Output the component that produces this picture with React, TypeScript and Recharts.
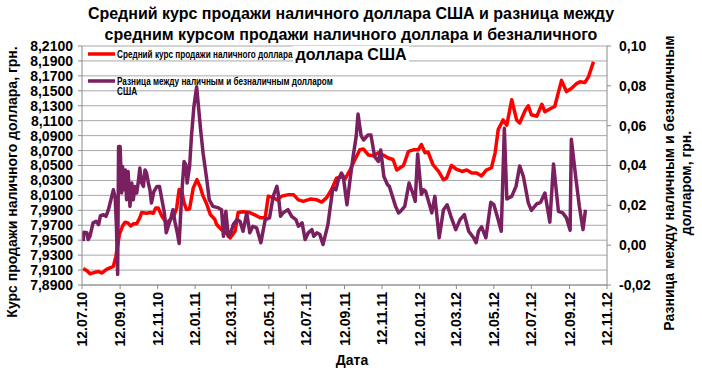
import React from 'react';
import { LineChart, Line, XAxis, YAxis, CartesianGrid, Legend } from 'recharts';

const FONT = '"Liberation Sans", Arial, sans-serif';

// x axis: days since 12.07.10, ticks every two months
const xTickDays = [0, 62, 123, 184, 243, 304, 365, 427, 488, 549, 609, 670, 731, 793, 854];
const xTickLabels = ['12.07.10', '12.09.10', '12.11.10', '12.01.11', '12.03.11', '12.05.11', '12.07.11', '12.09.11', '12.11.11', '12.01.12', '12.03.12', '12.05.12', '12.07.12', '12.09.12', '12.11.12'];
const leftTicks = [7.89, 7.91, 7.93, 7.95, 7.97, 7.99, 8.01, 8.03, 8.05, 8.07, 8.09, 8.11, 8.13, 8.15, 8.17, 8.19, 8.21];
const rightTicks = [-0.02, 0, 0.02, 0.04, 0.06, 0.08, 0.1];

const titleLines = ['Средний курс продажи наличного доллара США и разница между', 'средним курсом продажи наличного доллара и безналичного', 'доллара США'];
const seriesNames = ['Средний курс продажи наличного доллара', 'Разница между наличным и безналичным долларом США'];

// Series 1: average cash USD selling rate (days since 12.07.10)
const rateDays = [2, 8, 13, 21, 27, 32, 40, 48, 51, 55, 61, 66, 70, 75, 79, 84, 89, 94, 97, 105, 111, 116, 120, 124, 130, 135, 139, 144, 150, 154, 158, 162, 166, 170, 175, 181, 187, 192, 197, 203, 209, 216, 219, 227, 235, 241, 249, 254, 262, 273, 281, 290, 298, 303, 311, 317, 325, 336, 344, 352, 360, 371, 382, 390, 398, 406, 414, 422, 428, 436, 444, 452, 458, 466, 474, 482, 490, 498, 506, 512, 523, 531, 539, 547, 552, 558, 563, 571, 580, 588, 593, 601, 609, 618, 626, 634, 642, 650, 658, 666, 672, 677, 685, 691, 699, 707, 712, 721, 726, 731, 740, 748, 753, 764, 769, 780, 788, 796, 805, 810, 818, 824, 832];
const rateValues = [7.912, 7.909, 7.905, 7.907, 7.908, 7.906, 7.911, 7.914, 7.915, 7.928, 7.958, 7.969, 7.974, 7.973, 7.969, 7.972, 7.972, 7.980, 7.987, 7.986, 7.987, 7.986, 7.993, 7.993, 7.982, 7.976, 7.974, 7.978, 7.984, 7.993, 8.018, 8.017, 8.000, 7.991, 7.992, 8.020, 8.031, 8.022, 8.009, 7.998, 7.984, 7.978, 7.971, 7.964, 7.959, 7.953, 7.962, 7.987, 7.988, 7.987, 7.984, 7.980, 7.980, 8.009, 8.007, 8.004, 8.009, 8.011, 8.011, 8.004, 8.002, 8.005, 8.004, 8.001, 8.007, 8.018, 8.033, 8.035, 8.032, 8.044, 8.058, 8.071, 8.072, 8.064, 8.063, 8.067, 8.064, 8.060, 8.058, 8.044, 8.050, 8.069, 8.071, 8.071, 8.078, 8.067, 8.068, 8.051, 8.042, 8.031, 8.033, 8.050, 8.045, 8.042, 8.044, 8.040, 8.040, 8.036, 8.044, 8.047, 8.067, 8.098, 8.111, 8.104, 8.138, 8.111, 8.107, 8.124, 8.130, 8.118, 8.116, 8.132, 8.122, 8.127, 8.129, 8.164, 8.149, 8.153, 8.160, 8.162, 8.161, 8.169, 8.189];

// Series 2: difference between cash and non-cash USD (days since 12.07.10)
const diffDays = [2, 3, 8, 10, 13, 18, 23, 27, 30, 35, 39, 43, 48, 51, 54, 56, 58, 59.5, 62, 64.5, 66, 68, 70.5, 72.5, 75, 78, 81, 83.5, 86, 89, 92, 94, 97, 100, 102.5, 105, 108, 110.5, 113, 117, 122, 126, 130, 134, 137, 141, 144, 148, 151, 155, 158, 162, 166, 169, 171, 175, 178, 182, 186.5, 189, 193, 197, 203, 207, 213, 222, 227, 230, 234, 238, 242, 246, 252, 257, 262, 268, 273, 278, 284, 291, 298, 305, 311, 317, 319, 323, 327, 335, 341, 348, 352, 358, 363, 368, 374, 377, 382, 387, 392, 400, 408, 413, 417, 422, 425, 431, 436, 441, 446, 449, 454, 458, 465, 470, 476, 482, 486, 491, 497, 500, 505, 510, 515, 518, 525, 532, 538, 542, 546, 552, 556, 559, 563, 569, 574, 581, 588, 594, 600, 608, 615, 622, 629, 637, 641, 645, 650, 657, 665, 670, 677, 682, 687, 691, 699, 706, 712, 718, 726, 731, 740, 746, 753, 761, 767, 775, 782, 788, 794, 796, 803, 809, 815, 819, 825, 832];
const diffValues = [0.002, 0.0065, 0.0062, 0.0028, 0.0045, 0.0112, 0.012, 0.0103, 0.0148, 0.0153, 0.0145, 0.0178, 0.024, 0.0278, 0.0237, 0.0095, -0.0147, 0.0495, 0.0495, 0.0262, 0.0395, 0.0278, 0.0378, 0.0228, 0.037, 0.0195, 0.0312, 0.0228, 0.0295, 0.0262, 0.0328, 0.0387, 0.0312, 0.0295, 0.0378, 0.0362, 0.0312, 0.0278, 0.0212, 0.027, 0.0295, 0.0295, 0.0228, 0.0162, 0.0062, 0.0103, 0.0128, 0.0178, 0.012, 0.0062, 0.0008, 0.0245, 0.042, 0.0403, 0.0312, 0.0395, 0.0545, 0.0695, 0.0795, 0.0712, 0.0578, 0.0462, 0.0328, 0.0228, 0.0195, 0.0187, 0.0178, 0.0045, 0.017, 0.0045, 0.0062, 0.0103, 0.0128, 0.012, 0.007, 0.0162, 0.0062, 0.0095, 0.0087, 0.0012, 0.0128, 0.0137, 0.0245, 0.0295, 0.0262, 0.0145, 0.0162, 0.0178, 0.0145, 0.0128, 0.0095, 0.0112, 0.0028, 0.0062, 0.0078, 0.0045, 0.0062, 0.0053, 0.0003, 0.0103, 0.0287, 0.0278, 0.0328, 0.0362, 0.0345, 0.0203, 0.0328, 0.0445, 0.0545, 0.0658, 0.055, 0.0528, 0.0553, 0.0553, 0.0445, 0.042, 0.0478, 0.0345, 0.0303, 0.0295, 0.0245, 0.0195, 0.0162, 0.017, 0.0195, 0.0312, 0.0262, 0.022, 0.0458, 0.0255, 0.0278, 0.027, 0.0228, 0.0162, 0.0245, 0.0037, 0.0178, 0.0203, 0.0145, 0.0078, 0.0128, 0.0153, 0.007, 0.0037, 0.0012, 0.007, 0.0092, 0.0037, 0.0215, 0.0203, 0.0128, 0.007, 0.0587, 0.0232, 0.0245, 0.0295, 0.0398, 0.0345, 0.0212, 0.0175, 0.0208, 0.0215, 0.0262, 0.0115, 0.0408, 0.017, 0.0162, 0.0137, 0.0075, 0.0532, 0.0345, 0.0195, 0.0078, 0.0178];

const rateData = rateDays.map((d, i) => ({ day: d, rate: rateValues[i] }));
const diffData = diffDays.map((d, i) => ({ day: d, diff: diffValues[i] }));

const RED = '#FF0000';
const PURPLE = '#7A1F60';
const GRID = '#A8A8A8';
const AXIS = '#8C8C8C';

const XTick = (props: any) => {
  const { x, y, payload } = props;
  const idx = xTickDays.indexOf(payload.value);
  return (
    <text x={x} y={y} transform={`rotate(-90 ${x} ${y})`} textAnchor="end" dy="0.36em"
      fontSize={14} fontWeight="bold" fontFamily={FONT} fill="#000">
      {idx >= 0 ? xTickLabels[idx] : ''}
    </text>
  );
};

const LegendContent = (props: any) => {
  const payload = props.payload || [];
  const textStyle = { fontFamily: FONT, fontSize: 10, fontWeight: 'bold' as const, fill: '#000' };
  const red = payload.find((p: any) => p.dataKey === 'rate');
  const pur = payload.find((p: any) => p.dataKey === 'diff');
  const purWords = String(pur ? pur.value : seriesNames[1]);
  const cut = purWords.lastIndexOf(' ');
  return (
    <svg width={300} height={54} style={{ display: 'block', overflow: 'visible' }}>
      <line x1={4} x2={31} y1={8} y2={8} stroke={red ? red.color : RED} strokeWidth={3.5} />
      <text transform="translate(33 11.5) scale(0.82 1)" {...textStyle}>{red ? red.value : seriesNames[0]}</text>
      <line x1={4} x2={31} y1={35} y2={35} stroke={pur ? pur.color : PURPLE} strokeWidth={3.5} />
      <text transform="translate(33 38.5) scale(0.82 1)" {...textStyle}>{purWords.slice(0, cut)}</text>
      <text transform="translate(33 48.5) scale(0.82 1)" {...textStyle}>{purWords.slice(cut + 1)}</text>
    </svg>
  );
};

export default function App() {
  const boldText = { fontFamily: FONT, fontWeight: 'bold' as const, color: '#000' };
  return (
    <div style={{ position: 'absolute', left: 0, top: 0, width: 702, height: 374, background: '#fff', overflow: 'hidden' }}>
      <LineChart width={702} height={374} margin={{ top: 46, right: 0, bottom: 0, left: 0 }}>
        <CartesianGrid yAxisId="left" vertical={false} stroke={GRID} horizontalValues={leftTicks} />
        <XAxis type="number" dataKey="day" domain={[0, 854]} ticks={xTickDays} interval={0}
          allowDataOverflow height={89} tickSize={4} tickMargin={3}
          axisLine={{ stroke: AXIS }} tickLine={{ stroke: AXIS }} tick={<XTick />} />
        <YAxis yAxisId="left" orientation="left" width={82} domain={[7.89, 8.21]} ticks={leftTicks}
          interval={0} allowDataOverflow tickSize={4} tickMargin={5}
          axisLine={{ stroke: AXIS }} tickLine={{ stroke: AXIS }}
          tickFormatter={(v: number) => v.toFixed(4).replace('.', ',')}
          tick={{ fill: '#000', fontSize: 14, fontWeight: 'bold', fontFamily: FONT }} />
        <YAxis yAxisId="right" orientation="right" width={95} domain={[-0.02, 0.1]} ticks={rightTicks}
          interval={0} allowDataOverflow tickSize={4} tickMargin={8}
          axisLine={{ stroke: AXIS }} tickLine={{ stroke: AXIS }}
          tickFormatter={(v: number) => v.toFixed(2).replace('.', ',')}
          tick={{ fill: '#000', fontSize: 14, fontWeight: 'bold', fontFamily: FONT }} />
        <Legend layout="vertical" align="center" verticalAlign="middle"
          wrapperStyle={{ position: 'absolute', left: 84, top: 46, width: 300, height: 54 }}
          content={<LegendContent />} />
        <Line yAxisId="left" data={rateData} dataKey="rate" name={seriesNames[0]} type="linear"
          stroke={RED} strokeWidth={3.5} dot={false} isAnimationActive={false} strokeLinejoin="round" />
        <Line yAxisId="right" data={diffData} dataKey="diff" name={seriesNames[1]} type="linear"
          stroke={PURPLE} strokeWidth={3.5} dot={false} isAnimationActive={false} strokeLinejoin="round" />
      </LineChart>

      <div style={{ position: 'absolute', left: 0, top: 4, width: 702, textAlign: 'center', fontSize: 16, lineHeight: '20.5px', ...boldText }}>
        <div>{titleLines[0]}</div>
        <div>{titleLines[1]}</div>
        <div><span style={{ background: '#fff', padding: '0 2px' }}>{titleLines[2]}</span></div>
      </div>

      <div style={{ position: 'absolute', left: 12, top: 182, transform: 'translate(-50%, -50%) rotate(-90deg)', whiteSpace: 'nowrap', fontSize: 14, ...boldText }}>
        Курс продажи наличного доллара, грн.
      </div>

      <div style={{ position: 'absolute', left: 678, top: 183, transform: 'translate(-50%, -50%) rotate(-90deg)', whiteSpace: 'nowrap', fontSize: 14, lineHeight: '17px', textAlign: 'center', ...boldText }}>
        <div>Разница между наличным и безналичным</div>
        <div>долларом, грн.</div>
      </div>

      <div style={{ position: 'absolute', left: 352, top: 360, transform: 'translate(-50%, -50%)', whiteSpace: 'nowrap', fontSize: 14, ...boldText }}>
        Дата
      </div>
    </div>
  );
}
